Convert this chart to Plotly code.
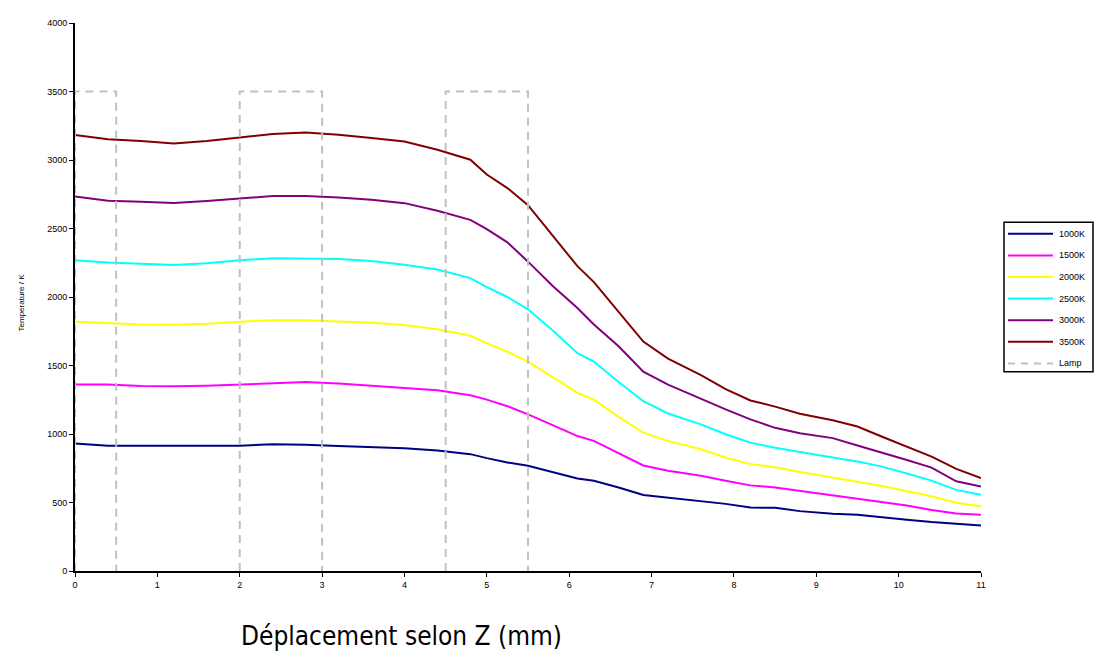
import plotly.graph_objects as go

z_mm = [0, 0.4, 0.8, 1.2, 1.6, 2.0, 2.4, 2.8, 3.2, 3.6, 4.0, 4.4, 4.8, 5.0, 5.25, 5.5,
        5.8, 6.1, 6.3, 6.6, 6.9, 7.2, 7.6, 7.9, 8.2, 8.5, 8.8, 9.2, 9.5, 9.8, 10.1,
        10.4, 10.7, 11.0]

t_1000 = [930, 915, 915, 915, 915, 915, 925, 922, 913, 905, 896, 880, 853, 824, 792, 768,
          720, 675, 659, 610, 555, 534, 509, 490, 463, 462, 437, 418, 410, 390, 375,
          358, 345, 333]
t_1500 = [1362, 1362, 1350, 1348, 1352, 1362, 1370, 1379, 1368, 1352, 1340, 1320, 1283, 1251,
          1203, 1143, 1065, 985, 950, 860, 770, 732, 696, 659, 625, 610, 585, 552, 525,
          500, 478, 445, 420, 411]
t_2000 = [1819, 1808, 1800, 1797, 1805, 1820, 1831, 1831, 1822, 1812, 1795, 1765, 1717, 1662,
          1601, 1529, 1415, 1300, 1250, 1125, 1010, 950, 889, 828, 780, 758, 722, 680, 652,
          620, 582, 546, 498, 473]
t_2500 = [2268, 2251, 2242, 2234, 2246, 2268, 2283, 2283, 2278, 2262, 2235, 2200, 2138, 2072,
          2000, 1910, 1755, 1590, 1529, 1380, 1239, 1150, 1070, 998, 937, 900, 868, 828, 800,
          762, 712, 660, 592, 556]
t_3000 = [2734, 2703, 2695, 2686, 2700, 2720, 2737, 2737, 2727, 2710, 2685, 2630, 2563, 2495,
          2399, 2258, 2080, 1920, 1800, 1640, 1455, 1360, 1255, 1180, 1107, 1045, 1005, 970,
          916, 865, 810, 755, 655, 616]
t_3500 = [3183, 3152, 3138, 3121, 3138, 3164, 3190, 3200, 3185, 3160, 3135, 3075, 3002, 2894,
          2795, 2670, 2450, 2225, 2109, 1890, 1675, 1550, 1430, 1328, 1245, 1200, 1148, 1100,
          1055, 980, 905, 835, 745, 679]

# lamp outline (bottom edges lie on the x axis)
lamp_x = [0, 0, 0.5, 0.5, None, 2, 2, 3, 3, None, 4.5, 4.5, 5.5, 5.5]
lamp_y = [0, 3500, 3500, 0, None, 0, 3500, 3500, 0, None, 0, 3500, 3500, 0]

series_names = ["1000K", "1500K", "2000K", "2500K", "3000K", "3500K"]
series_vals = [t_1000, t_1500, t_2000, t_2500, t_3000, t_3500]
series_colors = ["#000080", "#FF00FF", "#FFFF00", "#00FFFF", "#800080", "#800000"]
lamp_name = "Lamp"
lamp_color = "#C0C0C0"

x_ticks = list(range(0, 12))
y_ticks = list(range(0, 4001, 500))

x_title = "Déplacement selon Z (mm)"
y_title = "Temperature / K"

# page-pixel geometry of the plot area (window has an 8px body margin)
FIG_W, FIG_H = 1099, 643
PL, PR, PT, PB = 75, 981, 18, 571
def px(X):
    return (X - PL) / (PR - PL)
def py(Y):
    return (PB - Y) / (PB - PT)

fig = go.Figure()
for name, vals, col in zip(series_names, series_vals, series_colors):
    fig.add_trace(go.Scatter(x=z_mm, y=vals, mode="lines", name=name,
                             line=dict(color=col, width=2), showlegend=False))
fig.add_trace(go.Scatter(x=lamp_x, y=lamp_y, mode="lines", name=lamp_name,
                         line=dict(color=lamp_color, width=2, dash="8px,6px"),
                         connectgaps=False, showlegend=False))

tick_font = dict(family="Liberation Sans, Arial", size=9, color="black")

shapes = []
annotations = []
# legend box
shapes.append(dict(type="rect", xref="paper", yref="paper",
                   x0=px(1004), x1=px(1093), y0=py(370), y1=py(219),
                   line=dict(color="black", width=1.5), fillcolor="white", layer="above"))
legend_names = series_names + [lamp_name]
legend_colors = series_colors + [lamp_color]
row_y0, row_dy = 230.7, 21.8
for i, (nm, col) in enumerate(zip(legend_names, legend_colors)):
    Y = row_y0 + i * row_dy
    shapes.append(dict(type="line", xref="paper", yref="paper",
                       x0=px(1008), x1=px(1053), y0=py(Y), y1=py(Y),
                       line=dict(color=col, width=2,
                                 dash="7px,6px" if nm == lamp_name else "solid"),
                       layer="above"))
    annotations.append(dict(text=nm, xref="paper", yref="paper", x=px(1057), y=py(Y),
                            xanchor="left", yanchor="middle", showarrow=False,
                            font=tick_font))

annotations.append(dict(text=x_title, xref="paper", yref="paper", x=px(401), y=py(637),
                        xanchor="center", yanchor="middle", showarrow=False,
                        font=dict(size=26, family="DejaVu Sans Condensed, Liberation Sans Narrow, Arial",
                                  color="black")))
annotations.append(dict(text=y_title, xref="paper", yref="paper", x=px(21), y=py(300),
                        xanchor="center", yanchor="middle", showarrow=False, textangle=-90,
                        font=dict(size=8, family="Liberation Sans, Arial", color="black")))

fig.update_layout(
    width=FIG_W, height=FIG_H,
    paper_bgcolor="white", plot_bgcolor="white",
    margin=dict(l=PL - 8, r=FIG_W - (PR - 8), t=PT - 8, b=FIG_H - (PB - 8)),
    font=tick_font,
    showlegend=False,
    shapes=shapes,
    annotations=annotations,
)

fig.update_xaxes(range=[0, 11], tickvals=x_ticks, ticks="outside", ticklen=4, tickwidth=1,
                 tickcolor="black", showline=True, linecolor="black", linewidth=2,
                 showgrid=False, zeroline=False, tickfont=tick_font, layer="above traces")
fig.update_yaxes(range=[0, 4000], tickvals=y_ticks, ticks="outside", ticklen=4, tickwidth=1,
                 tickcolor="black", showline=True, linecolor="black", linewidth=2,
                 showgrid=False, zeroline=False, tickfont=tick_font, layer="above traces")

fig.write_html("out.html")
